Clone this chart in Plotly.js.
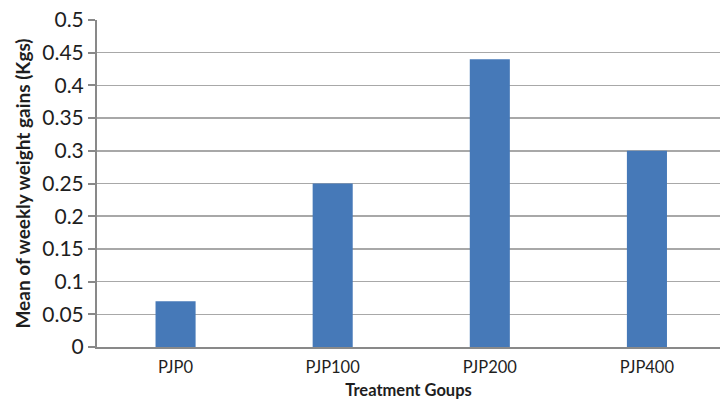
<!DOCTYPE html>
<html><head><meta charset="utf-8">
<script src="https://cdn.plot.ly/plotly-3.0.1.min.js"></script>
<style>html,body{margin:0;padding:0;background:#fff;}#chart{width:720px;height:402px;}</style>
</head><body><div id="chart"></div>
<script>
const categories = ["PJP0", "PJP100", "PJP200", "PJP400"];
const weightGain = [0.07, 0.25, 0.44, 0.30];
const yTicks = [0, 0.05, 0.1, 0.15, 0.2, 0.25, 0.3, 0.35, 0.4, 0.45, 0.5];
const yTickLabels = ["0", "0.05", "0.1", "0.15", "0.2", "0.25", "0.3", "0.35", "0.4", "0.45", "0.5"];

const font = "Lato, 'Open Sans', sans-serif";
Plotly.newPlot("chart", [{
  type: "bar",
  x: categories,
  y: weightGain,
  marker: {color: "#4679b8"},
  width: 0.255,
  hoverinfo: "none"
}], {
  width: 720, height: 402,
  margin: {l: 97, r: 0, t: 20, b: 55},
  paper_bgcolor: "#fff", plot_bgcolor: "#fff",
  showlegend: false,
  font: {family: font, color: "#1e1e1e", size: 16},
  xaxis: {
    range: [-0.5, 3.465],
    showline: true, linecolor: "#898989", linewidth: 2,
    showgrid: false, zeroline: false,
    ticks: "", tickfont: {size: 16.5, family: font, color: "#1e1e1e"},
    ticklabelstandoff: 4,
    title: {text: "<b>Treatment Goups</b>", font: {size: 16.5, family: font, color: "#1e1e1e"}, standoff: 9}
  },
  yaxis: {
    range: [0, 0.5],
    automargin: true,
    tickvals: yTicks, ticktext: yTickLabels,
    showline: true, linecolor: "#898989", linewidth: 2,
    showgrid: true, gridcolor: "#a8a8a8", gridwidth: 1.5,
    zeroline: false,
    ticks: "outside", ticklen: 7, tickcolor: "#898989", tickwidth: 2,
    ticklabelstandoff: 0,
    tickfont: {size: 21, family: font, color: "#1e1e1e"},
    title: {text: "<b>Mean of weekly weight gains (Kgs)</b>", font: {size: 19, family: font, color: "#1e1e1e"}, standoff: 7}
  }
}, {staticPlot: true});
</script></body></html>
